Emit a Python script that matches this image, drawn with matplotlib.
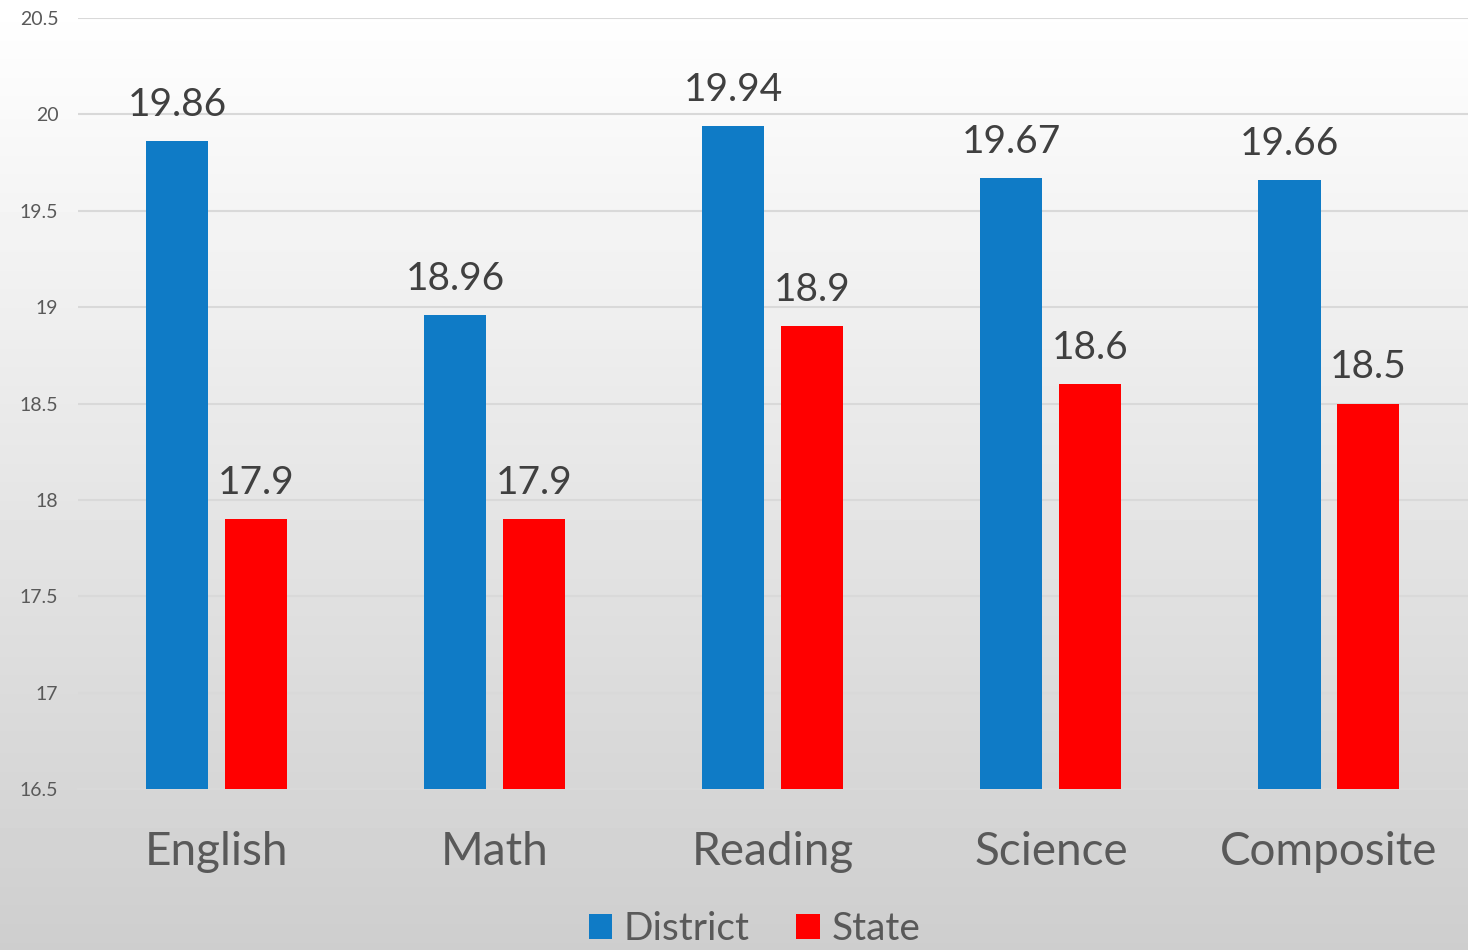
import numpy as np
from matplotlib import pyplot as plt

categories = ['English', 'Math', 'Reading', 'Science', 'Composite']
district = [19.86, 18.96, 19.94, 19.67, 19.66]
state = [17.9, 17.9, 18.9, 18.6, 18.5]
yticks = [16.5, 17, 17.5, 18, 18.5, 19, 19.5, 20, 20.5]
ytick_labels = ['16.5', '17', '17.5', '18', '18.5', '19', '19.5', '20', '20.5']

blue = '#0F7BC6'
red = '#FF0000'
txt = '#595959'

plt.rcParams['font.family'] = ['Lato', 'DejaVu Sans']

fig = plt.figure(figsize=(14.68, 9.5), dpi=100)

# background gradient, white at top to light gray at bottom
bg = fig.add_axes([0, 0, 1, 1], zorder=-10)
grad = np.linspace(0, 1, 256).reshape(-1, 1)
bg.imshow(grad, aspect='auto', cmap='gray', vmin=-4.2, vmax=1.0,
          extent=[0, 1, 0, 1], origin='lower')
bg.axis('off')

ax = fig.add_axes([0.053, 0.1695, 0.947, 0.8115])
ax.patch.set_alpha(0)

x = np.arange(len(categories))
w = 0.223
off = 0.142
b1 = ax.bar(x - off, np.array(district) - 16.5, w, bottom=16.5, color=blue, label='District', zorder=3)
b2 = ax.bar(x + off, np.array(state) - 16.5, w, bottom=16.5, color=red, label='State', zorder=3)

for xi, v in zip(x - off, district):
    ax.annotate(f'{v:g}', (xi, v), xytext=(0, 13), textcoords='offset points',
                ha='center', va='bottom', fontsize=28, color='#404040')
for xi, v in zip(x + off, state):
    ax.annotate(f'{v:g}', (xi, v), xytext=(0, 13), textcoords='offset points',
                ha='center', va='bottom', fontsize=28, color='#404040')

ax.set_xlim(-0.5, len(categories) - 0.5)
ax.set_ylim(16.5, 20.5)
ax.set_yticks(yticks)
ax.set_yticklabels(ytick_labels)
ax.yaxis.grid(True, color='#d9d9d9', linewidth=1.5, zorder=0)
ax.set_xticks(x)
ax.set_xticklabels(categories, fontsize=33, color=txt)
ax.tick_params(axis='x', length=0, pad=30)
ax.tick_params(axis='y', length=0, labelsize=14, labelcolor=txt, pad=14)
for s in ['top', 'right', 'left']:
    ax.spines[s].set_visible(False)
ax.spines['bottom'].set_color('#d9d9d9')
ax.spines['bottom'].set_linewidth(1.5)

fig.legend(handles=[b1, b2], loc='center', bbox_to_anchor=(0.514, 0.022), ncol=2,
           frameon=False, fontsize=28, labelcolor=txt, handlelength=0.6, handleheight=0.6,
           handletextpad=0.3, columnspacing=1.2)

fig.savefig('out.png', dpi=100)
